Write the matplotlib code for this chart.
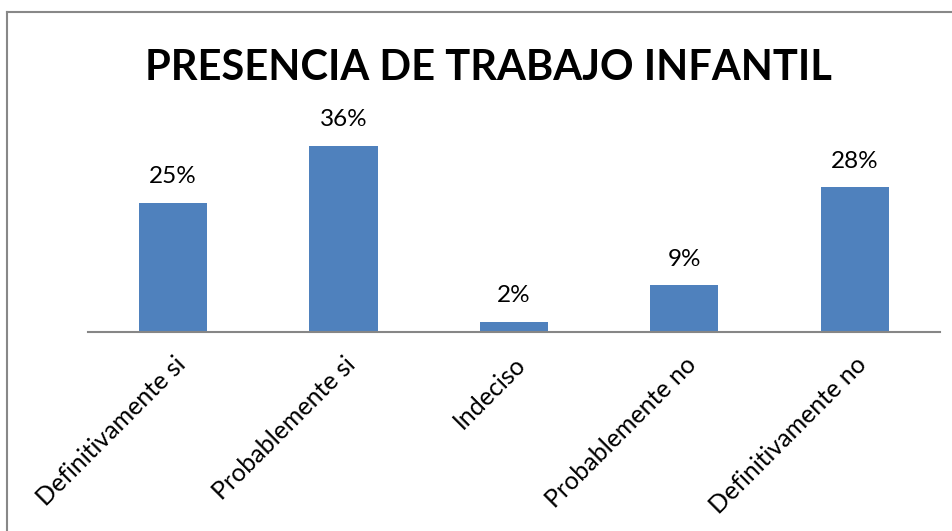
import numpy as np
import matplotlib.pyplot as plt
from matplotlib.lines import Line2D

categories = ["Definitivamente si", "Probablemente si", "Indeciso",
              "Probablemente no", "Definitivamente no"]
values = [25, 36, 2, 9, 28]
labels = ["25%", "36%", "2%", "9%", "28%"]

fig = plt.figure(figsize=(9.53, 5.31), dpi=100)
ax = fig.add_axes([0.0923, 0.3748, 0.894, 0.39])

x = np.arange(len(categories))
ax.bar(x, values, width=0.4, color="#4F81BD")
for xi, v, t in zip(x, values, labels):
    ax.annotate(t, (xi, v), xytext=(0, 11), textcoords="offset points",
                ha="center", va="bottom", fontsize=17.5, family="Lato")

ax.set_xlim(-0.5, 4.5)
ax.set_ylim(0, 40)
ax.set_yticks([])
ax.set_xticks(x)
ax.set_xticklabels(categories, rotation=45, ha="right", rotation_mode="anchor",
                   fontsize=18, family="Lato")
ax.tick_params(axis="x", length=0, pad=15)
for s in ["top", "right", "left"]:
    ax.spines[s].set_visible(False)
ax.spines["bottom"].set_color("#868686")
ax.spines["bottom"].set_linewidth(1.5)

fig.text(0.513, 0.872, "PRESENCIA DE TRABAJO INFANTIL", ha="center", va="center",
         fontsize=30, fontweight="bold", family="Lato")

# outer chart border (top and left visible)
fig.add_artist(Line2D([0.0075, 1.0], [0.977, 0.977], color="#888888", lw=1.5,
                      transform=fig.transFigure))
fig.add_artist(Line2D([0.0075, 0.0075], [0.0, 0.977], color="#888888", lw=1.5,
                      transform=fig.transFigure))

fig.savefig("out.png", dpi=100)
